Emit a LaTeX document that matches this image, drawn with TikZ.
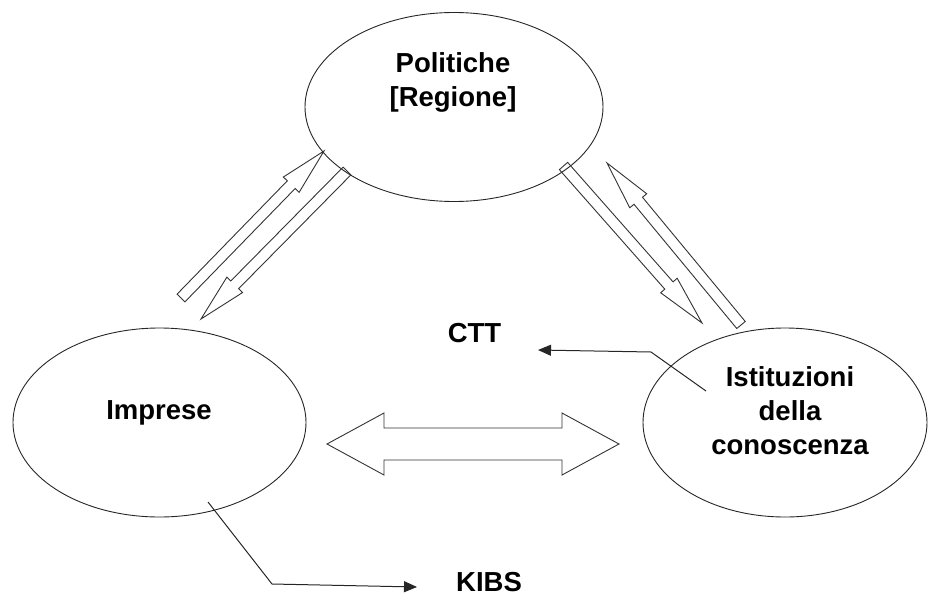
\documentclass[tikz,border=0pt]{standalone}
\usepackage{fontspec}
\setmainfont{Liberation Sans}
\usetikzlibrary{calc,arrows.meta,shapes.geometric}

% hollow block arrow: tail, tip, half shaft width, half head width, head length
\newcommand\blockarrow[5]{%
  \draw[hollow] ($(#1)!#3!90:(#2)$)
    -- ($(#2)!#5!(#1)!#3!-90:(#1)$)
    -- ($(#2)!#5!(#1)!#4!-90:(#1)$)
    -- (#2)
    -- ($(#2)!#5!(#1)!#4!90:(#1)$)
    -- ($(#2)!#5!(#1)!#3!90:(#1)$)
    -- ($(#1)!#3!-90:(#2)$) -- cycle;}

% hollow double-headed block arrow between two tips
\newcommand\twowayarrow[5]{%
  \draw[hollow] (#1)
    -- ($(#1)!#5!(#2)!#4!90:(#2)$)
    -- ($(#1)!#5!(#2)!#3!90:(#2)$)
    -- ($(#2)!#5!(#1)!#3!-90:(#1)$)
    -- ($(#2)!#5!(#1)!#4!-90:(#1)$)
    -- (#2)
    -- ($(#2)!#5!(#1)!#4!90:(#1)$)
    -- ($(#2)!#5!(#1)!#3!90:(#1)$)
    -- ($(#1)!#5!(#2)!#3!-90:(#2)$)
    -- ($(#1)!#5!(#2)!#4!-90:(#2)$) -- cycle;}

\begin{document}
\begin{tikzpicture}[x=1pt,y=-1pt,
  bubble/.style={draw=black!85, ellipse, line width=0.9pt, inner sep=0pt},
  lbl/.style={font=\bfseries\fontsize{27.5}{34}\selectfont, align=center, inner sep=0pt},
  hollow/.style={draw=black!80, line width=0.9pt, line join=miter},
  link/.style={draw=black!85, line width=1pt, -{Triangle[length=13pt,width=11pt]}},
]
\useasboundingbox (0,0) rectangle (928,597);

% the three actors
\node[bubble, minimum width=298pt, minimum height=189pt] (pol) at (454,107) {};
\node[bubble, minimum width=293pt, minimum height=189pt] (imp) at (159.5,422.5) {};
\node[bubble, minimum width=284pt, minimum height=189pt] (ist) at (785,422.5) {};

\node[lbl] (tpol) at (453,82.5) {Politiche\\{[Regione]}};
\node[lbl] (timp) at (159,413) {Imprese};
\node[lbl] (tist) at (790,411) {Istituzioni\\della\\conoscenza};

% free-standing labels
\node[lbl] (ctt) at (474.5,333.5) {CTT};
\node[lbl] (kibs) at (489,582.5) {KIBS};

% ends of the block arrows
\coordinate (a1) at (181,298);   \coordinate (a2) at (324,151);
\coordinate (b1) at (347,171);   \coordinate (b2) at (201,319);
\coordinate (c1) at (563.5,166); \coordinate (c2) at (702,323);
\coordinate (d1) at (741,325);   \coordinate (d2) at (607,163);
\coordinate (dl) at (327,444);   \coordinate (dr) at (619,444);

\blockarrow{a1}{a2}{5.5pt}{11pt}{47pt}
\blockarrow{b1}{b2}{5.5pt}{11pt}{48pt}
\blockarrow{c1}{c2}{5.5pt}{11pt}{50pt}
\blockarrow{d1}{d2}{5.5pt}{11pt}{49pt}
\twowayarrow{dl}{dr}{16pt}{31pt}{57pt}

% thin pointers
\coordinate (cttfrom) at (706,391);
\coordinate (cttbend) at (651,352);
\coordinate (cttto) at (538,350);
\draw[link] (cttfrom) -- (cttbend) -- (cttto);

\coordinate (kibsfrom) at (208,502);
\coordinate (kibsbend) at (272,584);
\coordinate (kibsto) at (417,587);
\draw[link] (kibsfrom) -- (kibsbend) -- (kibsto);
\end{tikzpicture}
\end{document}
